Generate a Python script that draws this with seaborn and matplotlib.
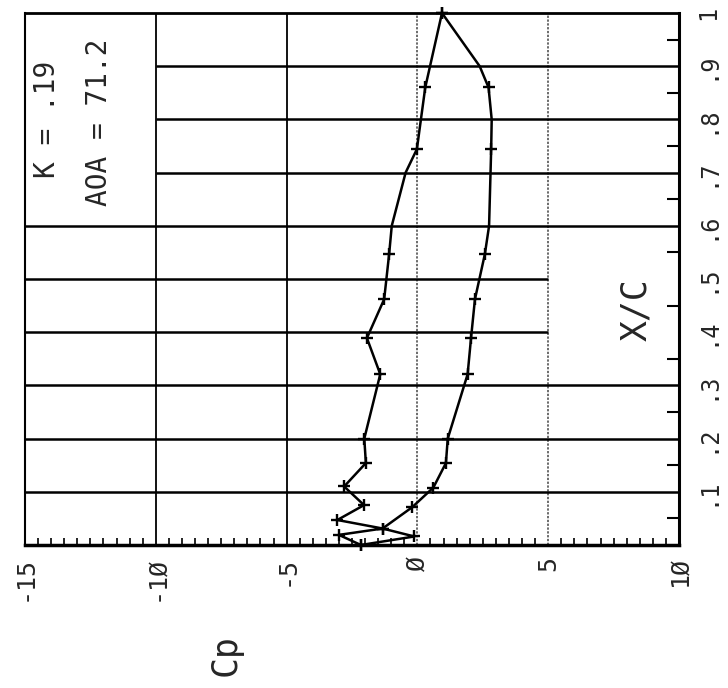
import matplotlib
matplotlib.use("Agg")
import matplotlib.pyplot as plt
from matplotlib.ticker import FixedLocator, MultipleLocator
import pandas as pd
import seaborn as sns

# Upper (suction) surface, leading edge -> trailing edge
upper_xc = [0.0, 0.019, 0.031, 0.047, 0.075, 0.110, 0.154, 0.200, 0.321, 0.389,
            0.462, 0.547, 0.600, 0.700, 0.744, 0.860, 1.0]
upper_cp = [-2.16, -3.00, -1.33, -3.06, -2.04, -2.80, -1.97, -2.03, -1.42, -1.93,
            -1.27, -1.08, -0.98, -0.45, -0.02, 0.30, 0.94]
upper_tap = [1, 1, 1, 1, 1, 1, 1, 1, 1, 1, 1, 1, 0, 0, 1, 1, 1]

# Lower (pressure) surface, leading edge -> trailing edge
lower_xc = [0.0, 0.016, 0.031, 0.071, 0.108, 0.154, 0.200, 0.321, 0.389, 0.462,
            0.547, 0.600, 0.744, 0.800, 0.860, 0.900, 1.0]
lower_cp = [-2.16, -0.12, -1.33, -0.20, 0.61, 1.09, 1.16, 1.92, 2.05, 2.20,
            2.58, 2.74, 2.82, 2.84, 2.72, 2.38, 0.94]
lower_tap = [1, 1, 1, 1, 1, 1, 1, 1, 1, 1, 1, 0, 1, 0, 1, 0, 1]

cp_ticks = [-15, -10, -5, 0, 5, 10]
cp_tick_labels = ["-15", "-1\u00d8", "-5", "\u00d8", "5", "1\u00d8"]
xc_ticks = [0.1, 0.2, 0.3, 0.4, 0.5, 0.6, 0.7, 0.8, 0.9, 1.0]
xc_tick_labels = [".1", ".2", ".3", ".4", ".5", ".6", ".7", ".8", ".9", "1"]
xc_minor = [0.05, 0.15, 0.25, 0.35, 0.45, 0.55, 0.65, 0.75, 0.85, 0.95]

case_k = "K = .19"
case_aoa = "AOA = 71.2"

upper = pd.DataFrame({"Cp": upper_cp, "XC": upper_xc, "tap": upper_tap})
lower = pd.DataFrame({"Cp": lower_cp, "XC": lower_xc, "tap": lower_tap})

sns.set_theme(style="white")
plt.rcParams["font.family"] = ["DejaVu Sans Mono", "DejaVu Sans"]

fig = plt.figure(figsize=(7.28, 6.88), dpi=100)
ax = fig.add_axes([25 / 728, 1 - 545 / 688, 654 / 728, 532 / 688])
ax.set_xlim(-15, 10)
ax.set_ylim(0, 1)

# grid: thin verticals, heavy horizontals with blank panels for the labels
for c in cp_ticks[1:-1]:
    if c < 0:
        ax.axvline(c, color="black", lw=1.3, zorder=1)
    else:
        ax.axvline(c, color="#444444", lw=1.1, ls=(0, (1.5, 1.0)), zorder=1)
for y in xc_ticks[:-1]:
    lo, hi = -15, 10
    if y > 0.6 + 1e-9:
        lo = -10
    if 0.3 + 1e-9 < y < 0.6 - 1e-9:
        hi = 5
    ax.hlines(y, lo, hi, color="black", lw=1.8, zorder=1)

for surf in (upper, lower):
    sns.lineplot(data=surf, x="Cp", y="XC", sort=False, estimator=None,
                 color="black", lw=1.8, ax=ax, zorder=3)
    sns.scatterplot(data=surf[surf["tap"] == 1], x="Cp", y="XC", marker="+",
                    s=80, linewidth=1.7, color="black", ax=ax, zorder=4,
                    clip_on=False)

ax.set_xlabel("")
ax.set_ylabel("")

# Cp axis (bottom)
ax.set_xticks(cp_ticks)
ax.set_xticklabels(cp_tick_labels, rotation=90, fontsize=18)
ax.xaxis.set_minor_locator(MultipleLocator(0.5))
ax.tick_params(axis="x", which="major", length=0, pad=8, bottom=True)
ax.tick_params(axis="x", which="minor", direction="in", length=5, width=1.2,
               color="black", bottom=True)

# X/C axis (right)
ax.yaxis.tick_right()
ax.set_yticks(xc_ticks)
ax.set_yticklabels(xc_tick_labels, rotation=90, va="center", fontsize=17)
ax.yaxis.set_minor_locator(FixedLocator(xc_minor))
ax.tick_params(axis="y", which="major", length=0, pad=12, left=False, right=True)
ax.tick_params(axis="y", which="minor", direction="in", length=9, width=1.5,
               color="black", left=False, right=True)

for side, lw in (("bottom", 2.5), ("right", 2.2), ("top", 2.0), ("left", 1.5)):
    ax.spines[side].set_linewidth(lw)
    ax.spines[side].set_color("black")

ax.text(-14.14, 0.80, case_k, rotation=90, ha="center", va="center", fontsize=20)
ax.text(-12.16, 0.795, case_aoa, rotation=90, ha="center", va="center", fontsize=20)
ax.text(8.37, 0.442, "X/C", rotation=90, ha="center", va="center", fontsize=25)
fig.text(0.310, 0.048, "Cp", rotation=90, ha="center", va="center", fontsize=25)

fig.savefig("out.png", dpi=100, facecolor="white")
